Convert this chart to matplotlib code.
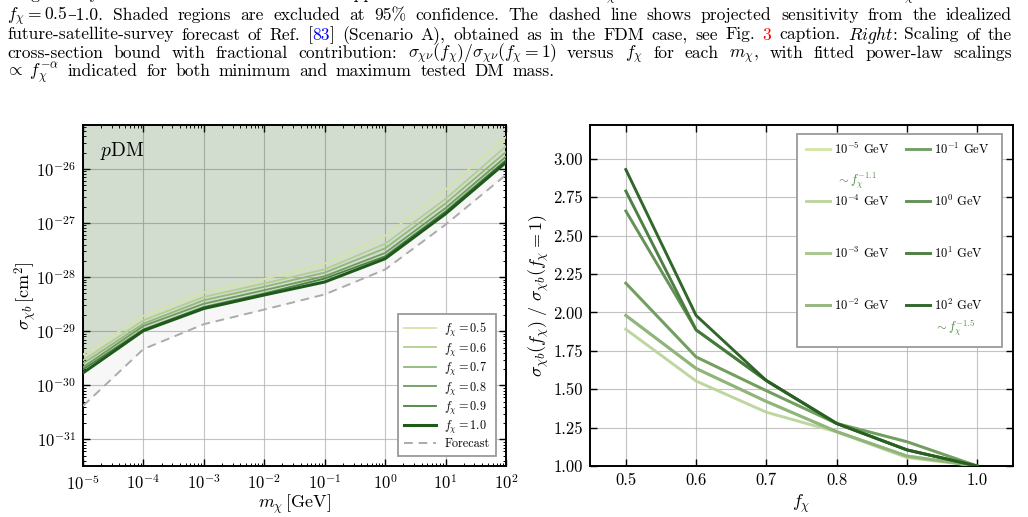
import numpy as np
import matplotlib
matplotlib.use("Agg")
import matplotlib.pyplot as plt
from matplotlib.patches import Rectangle
from matplotlib.ticker import LogLocator, LogFormatterMathtext, FixedLocator, FixedFormatter, NullFormatter

plt.rcParams.update({
    "font.family": ["cmr10", "DejaVu Serif"],
    "mathtext.fontset": "cm",
    "axes.formatter.use_mathtext": True,
    "axes.unicode_minus": True,
    "axes.linewidth": 1.4,
})

# ---------------- data ----------------
masses = [1e-5, 1e-4, 1e-3, 1e-2, 1e-1, 1e0, 1e1, 1e2]
mass_labels = [r"$10^{-5}$ GeV", r"$10^{-4}$ GeV", r"$10^{-3}$ GeV", r"$10^{-2}$ GeV",
               r"$10^{-1}$ GeV", r"$10^{0}$ GeV", r"$10^{1}$ GeV", r"$10^{2}$ GeV"]
fractions = [0.5, 0.6, 0.7, 0.8, 0.9, 1.0]
fraction_labels = [r"$f_\chi = 0.5$", r"$f_\chi = 0.6$", r"$f_\chi = 0.7$",
                   r"$f_\chi = 0.8$", r"$f_\chi = 0.9$", r"$f_\chi = 1.0$"]

# log10 of the bound for f_chi = 1 and of the forecast (left panel)
log_sigma_f1 = [-29.77, -28.99, -28.58, -28.33, -28.09, -27.66, -26.83, -25.88]
log_sigma_forecast = [-30.38, -29.33, -28.87, -28.60, -28.32, -27.86, -27.03, -26.11]

# ratio sigma(f)/sigma(f=1) for each mass (rows) at each fraction (columns)
ratio_1em5 = [2.19, 1.71, 1.49, 1.277, 1.158, 1.0]
ratio_1em4 = [1.89, 1.553, 1.35, 1.222, 1.055, 1.0]
ratio_1em3 = [1.98, 1.635, 1.42, 1.224, 1.065, 1.0]
ratio_1em2 = [1.98, 1.635, 1.42, 1.224, 1.065, 1.0]
ratio_1em1 = [2.19, 1.71, 1.49, 1.277, 1.158, 1.0]
ratio_1e0 = [2.66, 1.886, 1.556, 1.277, 1.105, 1.0]
ratio_1e1 = [2.79, 1.886, 1.556, 1.277, 1.105, 1.0]
ratio_1e2 = [2.93, 1.98, 1.556, 1.277, 1.105, 1.0]
ratios = [ratio_1em5, ratio_1em4, ratio_1em3, ratio_1em2,
          ratio_1em1, ratio_1e0, ratio_1e1, ratio_1e2]

frac_colors = ["#d3e5a6", "#b3cf90", "#91b878", "#6e9c5d", "#4b8142", "#1f5a1b"]
mass_colors = ["#d3e5a6", "#bbd49a", "#a5c488", "#8fb478", "#6e9a5f", "#5e8b50", "#437939", "#275f20"]

right_xticks = [0.5, 0.6, 0.7, 0.8, 0.9, 1.0]
right_xticklabels = ["0.5", "0.6", "0.7", "0.8", "0.9", "1.0"]
right_yticks = [1.0, 1.25, 1.5, 1.75, 2.0, 2.25, 2.5, 2.75, 3.0]
right_yticklabels = ["1.00", "1.25", "1.50", "1.75", "2.00", "2.25", "2.50", "2.75", "3.00"]

# ---------------- figure ----------------
W, H = 1028, 517
fig = plt.figure(figsize=(W / 100, H / 100), dpi=100)

def ax_rect(x0, y0, x1, y1):
    return [x0 / W, 1 - y1 / H, (x1 - x0) / W, (y1 - y0) / H]

axL = fig.add_axes(ax_rect(83, 125, 506, 466))
axR = fig.add_axes(ax_rect(590, 125, 1013, 466))

grid_kw = dict(color="#b5b5b5", linewidth=0.8, alpha=0.8)

# ---- left panel ----
sig1 = np.power(10.0, log_sigma_f1)
sigfc = np.power(10.0, log_sigma_forecast)
ratio_arr = np.array(ratios)

axL.set_axisbelow(True)
axL.grid(True, which="major", **grid_kw)
axL.fill_between(masses, sig1, 1e-20, color="#2e5a1e", alpha=0.21, lw=0, zorder=1)
axL.fill_between(masses, sigfc, sig1, color="black", alpha=0.03, lw=0, zorder=1)
for j, f in enumerate(fractions):
    lw = 2.2 if f == 1.0 else 1.3
    axL.plot(masses, sig1 * ratio_arr[:, j], color=frac_colors[j], lw=lw,
             label=fraction_labels[j], zorder=3)
axL.plot(masses, sigfc, color="#ababab", lw=1.4, ls=(0, (4.5, 3)), label="Forecast", zorder=3)

axL.set_xscale("log")
axL.set_yscale("log")
axL.set_xlim(1e-5, 1e2)
axL.set_ylim(10 ** -31.49, 10 ** -25.19)
axL.xaxis.set_major_locator(LogLocator(base=10, numticks=20))
axL.yaxis.set_major_locator(LogLocator(base=10, numticks=20))
axL.yaxis.set_minor_locator(LogLocator(base=10, subs=np.arange(2, 10), numticks=40))
axL.yaxis.set_minor_formatter(NullFormatter())
axL.xaxis.set_minor_locator(LogLocator(base=10, subs=np.arange(2, 10), numticks=40))
axL.xaxis.set_minor_formatter(NullFormatter())
axL.xaxis.set_major_formatter(LogFormatterMathtext())
axL.yaxis.set_major_formatter(LogFormatterMathtext())
axL.set_xlabel(r"$m_\chi\,[\mathrm{GeV}]$", fontsize=13, labelpad=0)
axL.set_ylabel(r"$\sigma_{\chi b}\,[\mathrm{cm}^2]$", fontsize=13, labelpad=-2)
axL.text(0.04, 0.955, r"$p$DM", transform=axL.transAxes, fontsize=14, va="top", ha="left")
legL = axL.legend(loc="lower right", bbox_to_anchor=(0.976, 0.029), borderaxespad=0,
                  fontsize=8.8, frameon=True, fancybox=False, framealpha=1,
                  edgecolor="#9a9a9a", handlelength=2.6, handletextpad=0.7,
                  labelspacing=0.2, borderpad=0.5)
legL.get_frame().set_linewidth(1.3)

# ---- right panel ----
axR.set_axisbelow(True)
axR.grid(True, which="major", **grid_kw)
for i, m in enumerate(masses):
    axR.plot(fractions, ratios[i], color=mass_colors[i], lw=2.1, alpha=0.95,
             label=mass_labels[i], zorder=3)
axR.set_xlim(0.449, 1.051)
axR.set_ylim(1.0, 3.22)
axR.xaxis.set_major_locator(FixedLocator(right_xticks))
axR.xaxis.set_major_formatter(FixedFormatter(right_xticklabels))
axR.yaxis.set_major_locator(FixedLocator(right_yticks))
axR.yaxis.set_major_formatter(FixedFormatter(right_yticklabels))
axR.set_xlabel(r"$f_\chi$", fontsize=13, labelpad=3)
axR.set_ylabel(r"$\sigma_{\chi b}(f_\chi)\ /\ \sigma_{\chi b}(f_\chi = 1)$", fontsize=13, labelpad=2)

legR = axR.legend(loc="upper left", bbox_to_anchor=((806 - 590) / 423, (466 - 141) / 341),
                  borderaxespad=0, ncol=2, fontsize=9, frameon=False,
                  handlelength=1.9, handletextpad=0.35, labelspacing=2.95,
                  columnspacing=1.3, borderpad=0)
axR.add_patch(Rectangle(((797 - 590) / 423, (466 - 347) / 341), (1002 - 797) / 423,
                        (347 - 134) / 341, transform=axR.transAxes, fill=True,
                        facecolor="white", edgecolor="#9a9a9a", lw=1.3, zorder=4))
legR.set_zorder(5)
axR.text((836 - 590) / 423, (466 - 181) / 341, r"$\sim f_\chi^{-1.1}$", transform=axR.transAxes,
         fontsize=9, color="#4a8540", va="center", ha="left", zorder=6)
axR.text((934 - 590) / 423, (466 - 328) / 341, r"$\sim f_\chi^{-1.5}$", transform=axR.transAxes,
         fontsize=9, color="#4a8540", va="center", ha="left", zorder=6)

for ax in (axL, axR):
    ax.tick_params(which="both", direction="in", top=True, right=True, labelsize=12)
    ax.tick_params(which="major", length=5, width=1.0, pad=5)
    ax.tick_params(which="minor", length=2.5, width=0.7)

# ---------------- caption (justified) ----------------
renderer = fig.canvas.get_renderer()
K, BLUE, RED = "black", "#0000ff", "#ff0000"
FS = 12.6

def W_(s):
    return [[(w, K)] for w in s.split()]

line0 = (W_("weighted by the fractional abundance. Left: upper limits on the cross-section")
         + [[(r"$\sigma_{\chi\nu}$", K)]]
         + W_("for fractional DM as a function of")
         + [[(r"$m_\chi$", K)]] + W_("for values of"))
line1 = ([[(r"$f_\chi = 0.5$", K), ("\u20131.0.", K)]]
         + W_("Shaded regions are excluded at 95% confidence. The dashed line shows projected sensitivity from the idealized"))
line2 = (W_("future-satellite-survey forecast of Ref.")
         + [[("[", K), ("83", BLUE), ("]", K)]]
         + W_("(Scenario A), obtained as in the FDM case, see Fig.")
         + [[("3", RED)]] + W_("caption.") + [[(r"$\mathit{Right}$:", K)]]
         + W_("Scaling of the"))
line3 = (W_("cross-section bound with fractional contribution:")
         + [[(r"$\sigma_{\chi\nu}(f_\chi)/\sigma_{\chi\nu}(f_\chi = 1)$", K)]]
         + W_("versus") + [[(r"$f_\chi$", K)]] + W_("for each")
         + [[(r"$m_\chi$", K), (",", K)]] + W_("with fitted power-law scalings"))
line4 = ([[(r"$\propto\ f_\chi^{-\alpha}$", K)]]
         + W_("indicated for both minimum and maximum tested DM mass."))

def place_line(words, y_base, justify=True, x0=7, x1=1012, space_em=0.36):
    arts, widths = [], []
    for w in words:
        segs, tot = [], 0.0
        for s, c in w:
            t = fig.text(0, 1 - y_base / H, s, color=c, fontsize=FS, va="baseline", ha="left")
            bw = t.get_window_extent(renderer).width
            segs.append((t, bw))
            tot += bw
        arts.append(segs)
        widths.append(tot)
    gap = (x1 - x0 - sum(widths)) / (len(words) - 1) if justify else FS * 100 / 72 * space_em
    x = x0
    for segs, tot in zip(arts, widths):
        for t, bw in segs:
            t.set_x(x / W)
            x += bw
        x += gap

place_line(line0, -0.5)
place_line(line1, 20.5)
place_line(line2, 39.5)
place_line(line3, 58)
place_line(line4, 76.5, justify=False, x0=5, space_em=0.48)

fig.savefig("out.png", dpi=100)
